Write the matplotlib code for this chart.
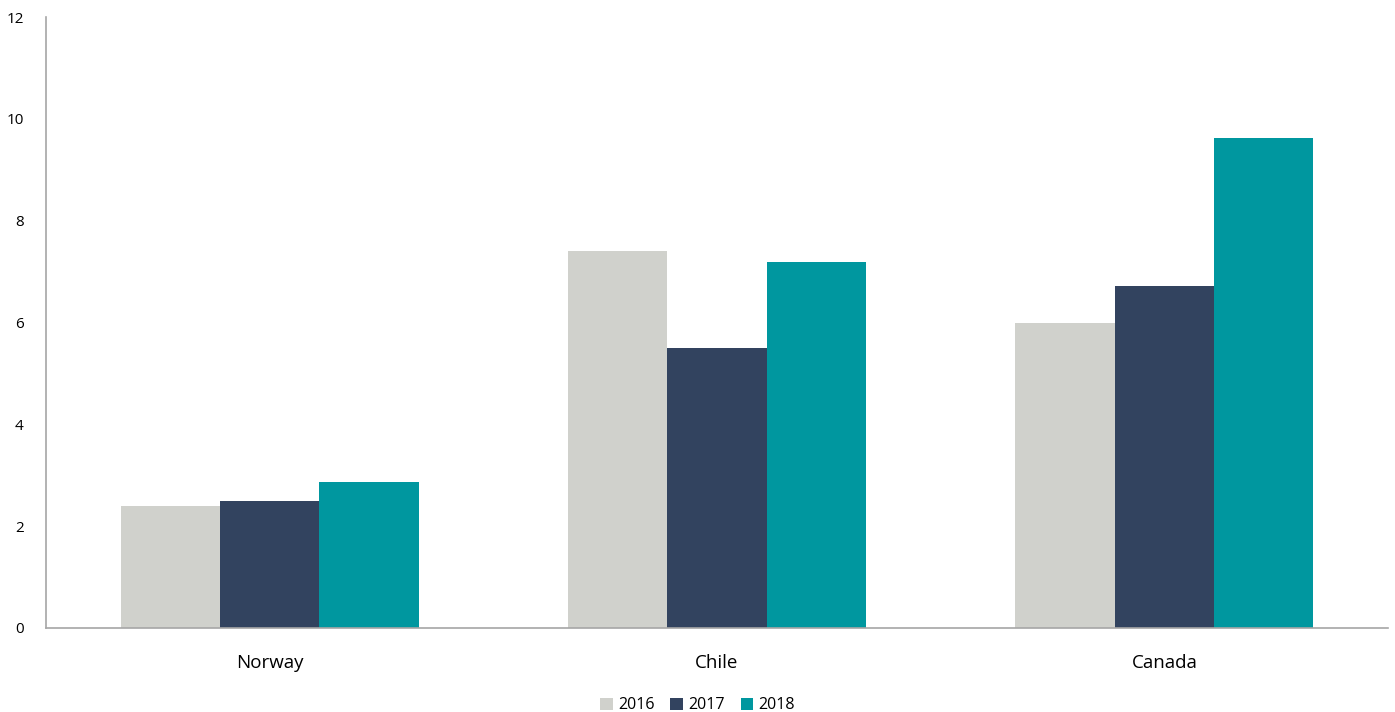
import numpy as np
import matplotlib.pyplot as plt

countries = ["Norway", "Chile", "Canada"]
years = ["2016", "2017", "2018"]
values_2016 = [2.40, 7.41, 5.99]
values_2017 = [2.49, 5.50, 6.72]
values_2018 = [2.87, 7.19, 9.63]
colors = ["#D0D1CC", "#32435F", "#00979F"]

plt.rcParams["font.family"] = ["Open Sans", "DejaVu Sans"]

fig = plt.figure(figsize=(13.95, 7.12), dpi=100)
ax = fig.add_axes([0.033, 0.118, 0.962, 0.858])

x = np.arange(len(countries))
w = 0.222
for i, (vals, year) in enumerate(zip([values_2016, values_2017, values_2018], years)):
    ax.bar(x + (i - 1) * w, vals, width=w, color=colors[i], label=year)

ax.set_xlim(-0.5, 2.5)
ax.set_ylim(0, 12)
ax.set_yticks(range(0, 13, 2))
ax.set_xticks(x)
ax.set_xticklabels(countries, fontsize=13.5)
ax.tick_params(axis="y", length=0, pad=16, labelsize=11)
ax.tick_params(axis="x", length=0, pad=19)

for s in ["top", "right"]:
    ax.spines[s].set_visible(False)
for s in ["left", "bottom"]:
    ax.spines[s].set_color("#A6A6A6")
    ax.spines[s].set_linewidth(1.2)

fig.legend(loc="lower center", ncol=3, frameon=False, fontsize=11.5,
           bbox_to_anchor=(0.5, -0.022), handlelength=0.8, handleheight=0.8,
           handletextpad=0.3, columnspacing=1.0)

fig.savefig("out.png")
